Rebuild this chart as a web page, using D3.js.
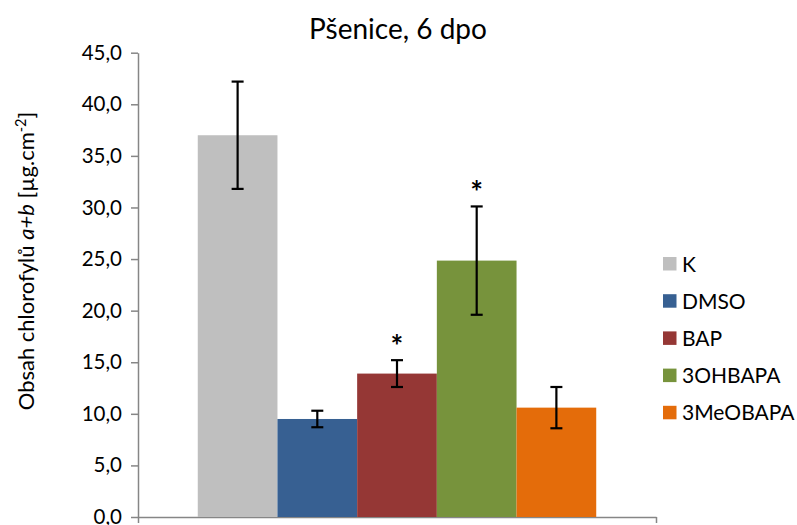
<!DOCTYPE html>
<html>
<head>
<meta charset="utf-8">
<script src="https://cdn.jsdelivr.net/npm/d3@7"></script>
<style>
  html, body { margin: 0; padding: 0; background: #fff; }
  svg text { font-family: Lato, "Open Sans", sans-serif; fill: #000; }
</style>
</head>
<body>
<svg id="chart" width="797" height="525"></svg>
<script>
// Chlorophyll a+b content in wheat, 6 days post-treatment
const treatments = ["K", "DMSO", "BAP", "3OHBAPA", "3MeOBAPA"];
const means      = [37.0, 9.5, 13.9, 24.85, 10.6];
const errors     = [5.2, 0.8, 1.3, 5.25, 2.0];
const significant = [false, false, true, true, false];
const colors     = ["#BFBFBF", "#376092", "#953735", "#77933C", "#E46C0A"];
const yTicks     = [0, 5, 10, 15, 20, 25, 30, 35, 40, 45];

const svg = d3.select("#chart");
const plot = { left: 138, right: 656, top: 52.7, bottom: 517 };

const y = d3.scaleLinear().domain([0, 45]).range([plot.bottom, plot.top]);
// the treatments form one cluster centred in the single category slot
const x = d3.scaleBand().domain(treatments).range([plot.left, plot.right])
  .paddingInner(0).paddingOuter(0.75);

const fmt = v => d3.format(".1f")(v).replace(".", ",");

// y axis
const yAxis = d3.axisLeft(y).tickValues(yTicks).tickFormat(fmt).tickSize(7).tickSizeOuter(0);
const gy = svg.append("g").attr("transform", `translate(${plot.left},0)`).call(yAxis);
gy.select(".domain").attr("stroke", "#868686").attr("stroke-width", 1.5);
gy.selectAll(".tick line").attr("stroke", "#868686").attr("stroke-width", 1.5);
gy.selectAll(".tick text").attr("x", -16).style("font-size", "20.5px").attr("fill", "#000");

// x axis: just the baseline with end ticks
const xEdge = d3.scaleLinear().domain([0, 1]).range([plot.left, plot.right]);
const xAxis = d3.axisBottom(xEdge).tickValues([0, 1]).tickFormat("").tickSize(6).tickSizeOuter(0);
const gx = svg.append("g").attr("transform", `translate(0,${plot.bottom})`).call(xAxis);
gx.select(".domain").attr("stroke", "#868686").attr("stroke-width", 1.5);
gx.selectAll(".tick line").attr("stroke", "#868686").attr("stroke-width", 1.5);

// bars
svg.append("g").selectAll("rect").data(treatments).join("rect")
  .attr("x", d => x(d))
  .attr("width", x.bandwidth())
  .attr("y", (d, i) => y(means[i]))
  .attr("height", (d, i) => y(0) - y(means[i]))
  .attr("fill", (d, i) => colors[i]);

// error bars
const eb = svg.append("g").attr("stroke", "#000").attr("stroke-width", 2.2);
treatments.forEach((d, i) => {
  const cx = x(d) + x.bandwidth() / 2;
  const hi = y(means[i] + errors[i]), lo = y(means[i] - errors[i]);
  eb.append("line").attr("x1", cx).attr("x2", cx).attr("y1", hi).attr("y2", lo);
  eb.append("line").attr("x1", cx - 6).attr("x2", cx + 6).attr("y1", hi).attr("y2", hi);
  eb.append("line").attr("x1", cx - 6).attr("x2", cx + 6).attr("y1", lo).attr("y2", lo);
});

// significance marks
svg.append("g").selectAll("text").data(treatments.filter((d, i) => significant[i])).join("text")
  .attr("x", d => x(d) + x.bandwidth() / 2)
  .attr("y", d => { const i = treatments.indexOf(d); return y(means[i] + errors[i]) - 3; })
  .attr("text-anchor", "middle")
  .style("font-size", "30px")
  .style("font-weight", "bold")
  .text("*");

// title
svg.append("text").attr("x", 398).attr("y", 39).attr("text-anchor", "middle")
  .style("font-size", "28px").text("Pšenice, 6 dpo");

// y axis title
const yt = svg.append("text").attr("transform", "translate(34,261) rotate(-90)")
  .attr("text-anchor", "middle").style("font-size", "22px");
yt.append("tspan").text("Obsah chlorofylů ");
yt.append("tspan").style("font-style", "italic").text("a+b");
yt.append("tspan").text(" [µg.cm");
yt.append("tspan").attr("dy", -8).style("font-size", "14.5px").text("-2");
yt.append("tspan").attr("dy", 8).text("]");

// legend
const legend = svg.append("g").attr("transform", "translate(663,257)");
const rows = legend.selectAll("g").data(treatments).join("g")
  .attr("transform", (d, i) => `translate(0,${i * 37.2})`);
rows.append("rect").attr("width", 13.5).attr("height", 13.5).attr("fill", (d, i) => colors[i]);
rows.append("text").attr("x", 19).attr("y", 14.5).style("font-size", "21px").text(d => d);
</script>
</body>
</html>
